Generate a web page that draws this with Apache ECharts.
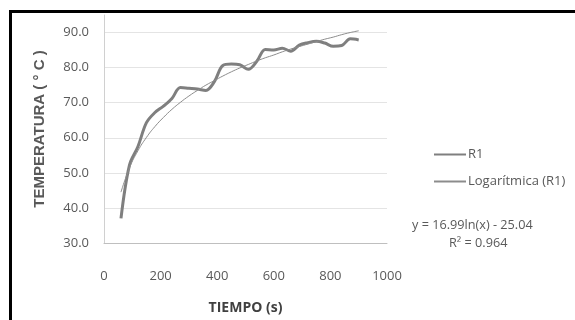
<!DOCTYPE html>
<html>
<head>
<meta charset="utf-8">
<script src="https://cdn.jsdelivr.net/npm/echarts@6/dist/echarts.min.js"></script>
<style>
  html, body { margin: 0; padding: 0; background: #fff; }
  #chart { width: 575px; height: 320px; }
</style>
</head>
<body>
<div id="chart"></div>
<script>
// tiempo (s)
let tiempo = [60, 90, 120, 150, 180, 210, 240, 270, 300, 330, 360, 390, 420, 450, 480,
    510, 540, 570, 600, 630, 660, 690, 720, 750, 780, 810, 840, 870, 900];
// temperatura medida R1
let r1 = [37.0, 52.2, 57.5, 64.3, 67.2, 69.0, 71.2, 74.3, 74.1, 73.9, 73.5, 76.0, 80.6, 81.0, 80.8,
    79.5, 81.8, 85.2, 85.0, 85.5, 84.7, 86.4, 87.1, 87.5, 87.0, 86.1, 86.3, 88.2, 87.9];
// linea de tendencia logaritmica
let tendencia = [44.5, 51.4, 56.3, 60.1, 63.2, 65.8, 68.1, 70.1, 71.9, 73.5, 75.0, 76.3, 77.6, 78.8, 79.9,
    80.9, 81.9, 82.8, 83.6, 84.5, 85.3, 86.0, 86.7, 87.4, 88.1, 88.7, 89.4, 90.0, 90.5];
let yTicks = [30, 40, 50, 60, 70, 80, 90];

let chart = echarts.init(document.getElementById("chart"));
let labelFont = { color: "#595959", fontSize: 13, fontFamily: "Open Sans" };
let gridColors = yTicks.map(function() { return "#e4e4e4"; }).concat(["rgba(0,0,0,0)"]);

let option = {
    animation: false,
    grid: { left: 104, right: 188, top: 15, bottom: 67 },
    legend: {
        orient: "vertical",
        left: 428,
        top: 143,
        itemWidth: 32,
        itemHeight: 14,
        itemGap: 14,
        itemStyle: { opacity: 0 },
        textStyle: { color: "#595959", fontSize: 13, fontFamily: "Open Sans", padding: [0, 0, 0, -3] },
        data: ["R1", "Logarítmica (R1)"]
    },
    xAxis: {
        type: "value",
        min: 0,
        max: 1000,
        interval: 200,
        name: "TIEMPO (s)",
        nameLocation: "middle",
        nameGap: 58,
        nameTextStyle: { color: "#404040", fontSize: 14, fontWeight: "bold", fontFamily: "Open Sans" },
        axisLine: { lineStyle: { color: "#bfbfbf", width: 1 } },
        axisTick: { show: false },
        splitLine: { show: false },
        axisLabel: Object.assign({
            margin: 27,
            formatter: function(v) { return String(v); }
        }, labelFont)
    },
    yAxis: {
        type: "value",
        min: 30,
        max: 95,
        interval: 10,
        name: "TEMPERATURA ( ° C )",
        nameLocation: "middle",
        nameGap: 57,
        nameTextStyle: { color: "#595959", fontSize: 15, fontWeight: "bold", fontFamily: "Liberation Sans" },
        axisLine: { show: true, lineStyle: { color: "#d0d0d0", width: 1 } },
        axisTick: { show: false },
        splitLine: { show: true, lineStyle: { color: gridColors, width: 1 } },
        axisLabel: Object.assign({
            margin: 15,
            showMaxLabel: false,
            formatter: function(v) { return v.toFixed(1); }
        }, labelFont)
    },
    series: [
        {
            name: "R1",
            type: "line",
            smooth: 0.35,
            symbol: "none",
            z: 2,
            itemStyle: { color: "#7f7f7f" },
            lineStyle: { color: "#7f7f7f", width: 3 },
            data: tiempo.map(function(t, i) { return [t, r1[i]]; })
        },
        {
            name: "Logarítmica (R1)",
            type: "line",
            smooth: true,
            symbol: "none",
            z: 3,
            itemStyle: { color: "#8c8c8c" },
            lineStyle: { color: "#8c8c8c", width: 1 },
            data: tiempo.map(function(t, i) { return [t, tendencia[i]]; })
        }
    ],
    graphic: [
        {
            type: "rect",
            shape: { x: 10.5, y: 11.5, width: 700, height: 500 },
            style: { fill: null, stroke: "#000", lineWidth: 3 },
            silent: true
        },
        {
            type: "text",
            left: 412,
            top: 219,
            style: {
                text: "y = 16.99ln(x) - 25.04",
                fill: "#595959",
                font: "12.7px 'Open Sans'"
            }
        },
        {
            type: "text",
            left: 449,
            top: 237,
            style: {
                text: "R² = 0.964",
                fill: "#595959",
                font: "12.7px 'Open Sans'"
            }
        }
    ]
};
chart.setOption(option, true);
</script>
</body>
</html>
